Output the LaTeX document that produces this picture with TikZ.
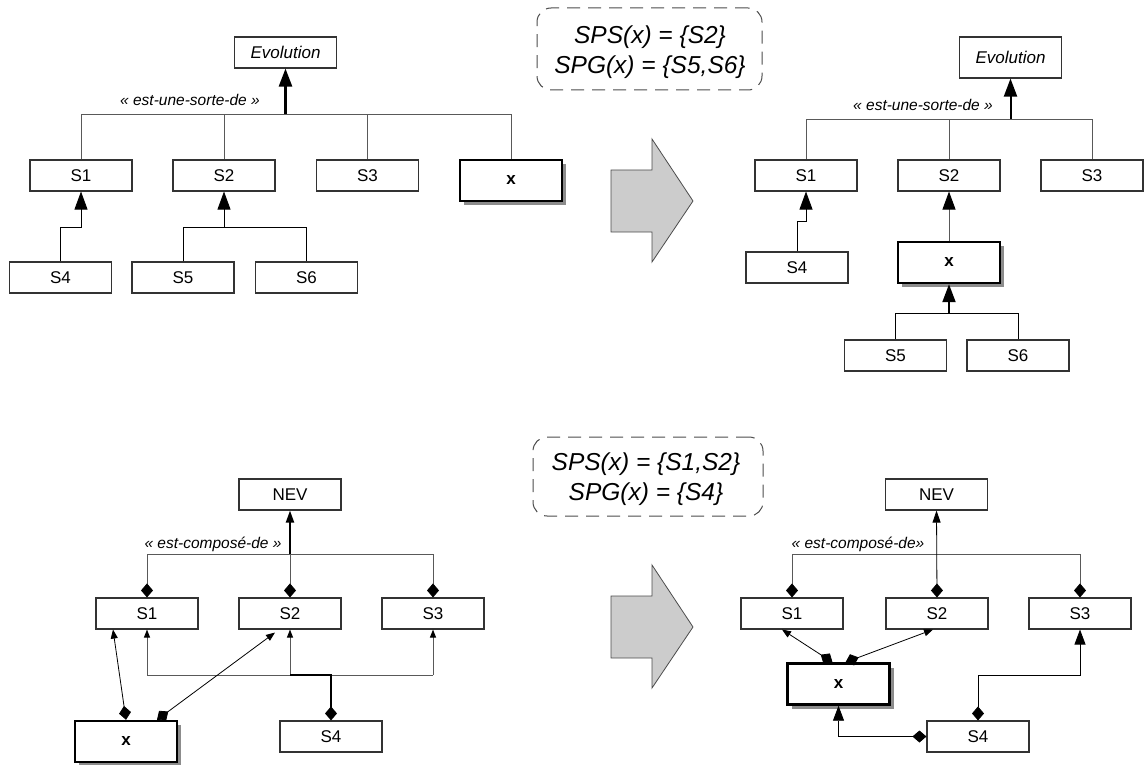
\documentclass[tikz,border=0pt]{standalone}
\usepackage{fontspec}
\setmainfont{Liberation Sans}
\usetikzlibrary{arrows.meta,shadows,calc}
\begin{document}
\begin{tikzpicture}[x=1pt,y=-1pt,
  box/.style={draw=black!80, line width=1.1pt, fill=white, minimum width=102pt, minimum height=31pt, inner sep=0pt, font=\fontsize{17}{20}\selectfont},
  evobox/.style={box, font=\fontsize{17}{20}\selectfont\itshape},
  xbox/.style={box, draw=black, line width=2.4pt, minimum height=41pt, font=\fontsize{17}{20}\selectfont\bfseries, drop shadow={shadow xshift=4pt, shadow yshift=-4pt, fill=black!45, opacity=1}},
  dashbox/.style={draw=black!70, line width=1pt, dash pattern=on 13pt off 8pt, rounded corners=14pt},
  spec/.style={align=center, inner sep=0pt, font=\fontsize{24.5}{30}\selectfont\itshape},
  rel/.style={inner sep=0pt, font=\fontsize{15.5}{18}\selectfont\itshape},
  conn/.style={draw=black!65, line width=0.9pt},
  link/.style={draw=black, line width=0.8pt},
  bold/.style={draw=black, line width=2.4pt},
  gen/.style={-{Triangle[length=18pt,width=13pt,color=black]}},
  genm/.style={-{Triangle[length=15pt,width=11pt,color=black]}},
  gens/.style={-{Triangle[length=12pt,width=8pt,color=black]}},
  genxs/.style={-{Triangle[length=8pt,width=6pt,color=black]}},
  dia/.style={{Diamond[length=14pt,width=12pt,color=black]}-},
  diaxs/.style={{Diamond[length=14pt,width=12pt,color=black]}-{Triangle[length=9pt,width=7pt,color=black]}},
  diam/.style={{Diamond[length=14pt,width=12pt,color=black]}-{Triangle[length=15pt,width=11pt,color=black]}},
  dias/.style={{Diamond[length=14pt,width=12pt,color=black]}-{Triangle[length=12pt,width=8pt,color=black]}},
  block/.style={fill=black!20, draw=black!70, line width=0.8pt}
]
\useasboundingbox (0,0) rectangle (1144,765);

% ================= top left =================
\node[evobox] (tl-evo) at (285.5,52.5) {Evolution};
\node[box] (tl-s1) at (81,175.5) {S1};
\node[box] (tl-s2) at (224,175.5) {S2};
\node[box] (tl-s3) at (367.5,175.5) {S3};
\node[xbox] (tl-x) at (511,180.5) {x};
\node[box] (tl-s4) at (60.5,277.5) {S4};
\node[box] (tl-s5) at (183,277.5) {S5};
\node[box] (tl-s6) at (306.5,277.5) {S6};
\node[rel] (tl-rel) at (190,100) {« est-une-sorte-de »};
\coordinate (tl-bus) at (285.5,114);
\coordinate (tl-b1) at (224,227);
\coordinate (tl-b4) at (81,227);
\draw[conn] (tl-s1.north) |- (tl-x.north |- tl-bus) -- (tl-x.north);
\draw[conn] (tl-s2.north) -- (tl-s2.north |- tl-bus);
\draw[conn] (tl-s3.north) -- (tl-s3.north |- tl-bus);
\draw[bold, gen] (tl-bus) -- (tl-evo.south);
\draw[link, gen] (tl-s4.north) |- (tl-b4) -- (tl-s1.south);
\draw[link] (tl-s5.north) |- (tl-s6.north |- tl-b1) -- (tl-s6.north);
\draw[link, gen] (tl-b1) -- (tl-s2.south);

% spec box top
\node[dashbox, minimum width=225pt, minimum height=82pt] (tspec) at (649.5,49) {};
\node[spec] (tspec-t) at (650,52.5) {SPS(x) = \{S2\}\\SPG(x) = \{S5,S6\}};

% block arrow top
\draw[block] (611,170) -- (652,170) -- (652,139) -- (693,201) -- (652,262) -- (652,232) -- (611,232) -- cycle;

% ================= top right =================
\node[evobox, minimum height=41pt] (tr-evo) at (1010.5,57.5) {Evolution};
\node[box] (tr-s1) at (806,175.5) {S1};
\node[box] (tr-s2) at (949,175.5) {S2};
\node[box] (tr-s3) at (1092,175.5) {S3};
\node[box] (tr-s4) at (797,267.5) {S4};
\node[xbox] (tr-x) at (949,262.5) {x};
\node[box] (tr-s5) at (895.5,355.5) {S5};
\node[box] (tr-s6) at (1018,355.5) {S6};
\node[rel] (tr-rel) at (923,105) {« est-une-sorte-de »};
\coordinate (tr-bus) at (1010.5,119);
\coordinate (tr-b4) at (806,221);
\coordinate (tr-b1) at (949,313);
\draw[conn] (tr-s1.north) |- (tr-s3.north |- tr-bus) -- (tr-s3.north);
\draw[conn] (tr-s2.north) -- (tr-s2.north |- tr-bus);
\draw[bold, line width=2pt, gen] (tr-bus) -- (tr-evo.south);
\draw[link, gen] (tr-s4.north) |- (tr-b4) -- (tr-s1.south);
\draw[conn, gen] (tr-x.north) -- (tr-s2.south);
\draw[link] (tr-s5.north) |- (tr-s6.north |- tr-b1) -- (tr-s6.north);
\draw[bold, line width=2pt, gen] (tr-b1) -- (tr-x.south);

% ================= bottom left =================
\node[box] (bl-nev) at (290,494.5) {NEV};
\node[box] (bl-s1) at (147,613.5) {S1};
\node[box] (bl-s2) at (290,613.5) {S2};
\node[box] (bl-s3) at (433,613.5) {S3};
\node[box] (bl-s4) at (331,736.5) {S4};
\node[xbox] (bl-x) at (126,741.5) {x};
\node[rel] (bl-rel) at (213,544) {« est-composé-de »};
\coordinate (bl-ubus) at (290,554);
\coordinate (bl-lbus) at (331,675);
\draw[conn, dia] (bl-s1.north) |- (bl-ubus);
\draw[conn, dia] (bl-s3.north) |- (bl-ubus);
\draw[conn, dia] (bl-s2.north) -- (bl-ubus);
\draw[bold, line width=2pt, gens] (bl-ubus) -- (bl-nev.south);
\draw[conn] (bl-s1.south |- bl-lbus) -- (bl-s3.south |- bl-lbus);
\draw[conn, genxs] (bl-s1.south |- bl-lbus) -- (bl-s1.south);
\draw[conn, genxs] (bl-s2.south |- bl-lbus) -- (bl-s2.south);
\draw[conn, genxs] (bl-s3.south |- bl-lbus) -- (bl-s3.south);
\draw[bold, line width=2pt, dia] (bl-s4.north) -- (bl-lbus) -- (bl-s2.south |- bl-lbus);
\draw[link, diaxs] (bl-x.north) -- ([xshift=-34pt]bl-s1.south);
\draw[link, diaxs] ([xshift=31pt]bl-x.north) -- ([xshift=-15pt,yshift=-3pt]bl-s2.south);

% spec box bottom
\node[dashbox, minimum width=230pt, minimum height=79pt] (bspec) at (648,476.5) {};
\node[spec] (bspec-t) at (646,479.5) {SPS(x) = \{S1,S2\}\\SPG(x) = \{S4\}};

% block arrow bottom
\draw[block] (611,596) -- (652,596) -- (652,565) -- (693,627) -- (652,688) -- (652,658) -- (611,658) -- cycle;

% ================= bottom right =================
\node[box] (br-nev) at (936.5,494.5) {NEV};
\node[box] (br-s1) at (792,613.5) {S1};
\node[box] (br-s2) at (937,613.5) {S2};
\node[box] (br-s3) at (1080,613.5) {S3};
\node[xbox] (br-x) at (838.5,684) {x};
\node[box] (br-s4) at (978,736.5) {S4};
\node[rel] (br-rel) at (858,544) {« est-composé-de»};
\coordinate (br-ubus) at (937,554);
\coordinate (br-k) at (1080,675);
\draw[conn, dia] (br-s1.north) |- (br-ubus);
\draw[conn, dia] (br-s3.north) |- (br-ubus);
\draw[link, dias] (br-s2.north) -- (br-nev.south);
\draw[link, diaxs] ([xshift=-6pt]br-x.north) -- ([xshift=-10pt]br-s1.south);
\draw[link, diaxs] ([xshift=7pt]br-x.north) -- ([xshift=-4pt]br-s2.south);
\draw[link, diam] (br-s4.north) |- (br-k) -- (br-s3.south);
\draw[link, diam] (br-s4.west) -| (br-x.south);
\end{tikzpicture}
\end{document}
